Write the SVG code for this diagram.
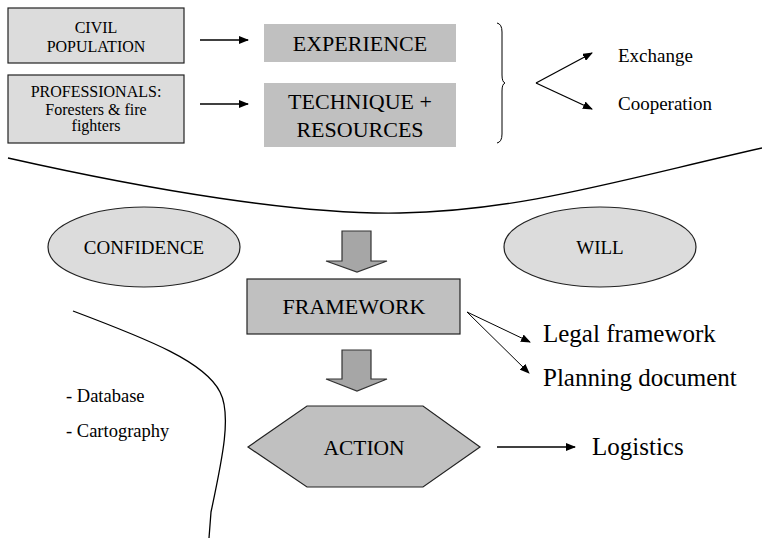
<svg xmlns="http://www.w3.org/2000/svg" width="762" height="538" viewBox="0 0 762 538">
<style>
text{font-family:"Liberation Serif","Times New Roman",serif;fill:#000}
.lb{fill:#dcdcdc;stroke:#222;stroke-width:1.2}
.db{fill:#c0c0c0}
.dbs{fill:#c0c0c0;stroke:#222;stroke-width:1.2}
.blk{fill:#a6a6a6;stroke:#333;stroke-width:1.2}
.ln{fill:none;stroke:#000;stroke-width:1.3}
.thin{fill:none;stroke:#000;stroke-width:1}
</style>
<defs>
<marker id="ah" markerWidth="10" markerHeight="8" refX="9" refY="4" orient="auto" markerUnits="userSpaceOnUse"><path d="M0,0 L10,4 L0,8 Z" fill="#000"/></marker>
<marker id="ahs" markerWidth="10" markerHeight="8" refX="9" refY="4" orient="auto" markerUnits="userSpaceOnUse"><path d="M0,0 L10,4 L0,8 Z" fill="#000"/></marker>
</defs>
<g id="civil"><rect class="lb" x="8" y="8" width="176" height="55"/><text x="96" y="33" font-size="16" text-anchor="middle">CIVIL</text><text x="96" y="52" font-size="16" text-anchor="middle">POPULATION</text></g>
<g id="professionals"><rect class="lb" x="8" y="75" width="176" height="68"/><text x="96" y="97" font-size="16" text-anchor="middle">PROFESSIONALS:</text><text x="96" y="115" font-size="16" text-anchor="middle">Foresters &amp; fire</text><text x="96" y="131" font-size="16" text-anchor="middle">fighters</text></g>
<g id="experience"><rect class="db" x="264" y="24" width="192" height="38"/><text x="360" y="51" font-size="22" text-anchor="middle">EXPERIENCE</text></g>
<g id="technique"><rect class="db" x="264" y="83" width="192" height="64"/><text x="360" y="109" font-size="22" text-anchor="middle">TECHNIQUE +</text><text x="360" y="137" font-size="22" text-anchor="middle">RESOURCES</text></g>
<g id="brace"><path class="thin" d="M497,23 Q502,24 502,32 L502,75 Q502,82 505,83 Q502,84 502,91 L502,134 Q502,142 497,143"/></g>
<g id="exchange"><text x="618" y="62" font-size="19">Exchange</text></g>
<g id="cooperation"><text x="618" y="110" font-size="19">Cooperation</text></g>
<g id="confidence"><ellipse class="lb" cx="144" cy="247" rx="96" ry="40"/><text x="144" y="254" font-size="19" text-anchor="middle">CONFIDENCE</text></g>
<g id="will"><ellipse class="lb" cx="600" cy="247" rx="96" ry="40"/><text x="600" y="254" font-size="19" text-anchor="middle">WILL</text></g>
<g id="framework"><rect class="dbs" x="247" y="279" width="213" height="55"/><text x="354" y="314" font-size="22" text-anchor="middle">FRAMEWORK</text></g>
<g id="action"><polygon class="dbs" points="248,447 307,406 423,406 480,447 423,487 307,487"/><text x="364" y="455" font-size="21.5" text-anchor="middle">ACTION</text></g>
<g id="legal"><text x="543" y="342" font-size="25">Legal framework</text></g>
<g id="planning"><text x="543" y="386" font-size="25">Planning document</text></g>
<g id="logistics"><text x="592" y="455" font-size="25">Logistics</text></g>
<g id="database"><text x="66" y="402" font-size="18.5">- Database</text><text x="66" y="437" font-size="18.5">- Cartography</text></g>
<g id="dividers">
<path class="ln" d="M8,158 C150,190 300,215 400,213 C520,211 620,180 762,148"/>
<path class="ln" d="M73,311 C150,340 205,362 220,392 C232,415 222,460 211,512 L209,538"/>
</g>
<g id="connectors">
<line class="ln" x1="200" y1="40" x2="248" y2="40" marker-end="url(#ah)"/>
<line class="ln" x1="200" y1="104" x2="248" y2="104" marker-end="url(#ah)"/>
<line class="ln" x1="536" y1="83" x2="592" y2="53" marker-end="url(#ah)"/>
<line class="ln" x1="536" y1="83" x2="592" y2="109" marker-end="url(#ah)"/>
<polygon class="blk" points="342,231 371,231 371,261 387,261 357,272 326,261 342,261"/>
<polygon class="blk" points="342,350 371,350 371,379 387,379 357,391 326,379 342,379"/>
<line class="thin" x1="467" y1="312" x2="530" y2="342" marker-end="url(#ahs)"/>
<line class="thin" x1="467" y1="312" x2="529" y2="373" marker-end="url(#ahs)"/>
<line class="ln" x1="497" y1="447" x2="575" y2="447" marker-end="url(#ahs)"/>
</g>
</svg>
